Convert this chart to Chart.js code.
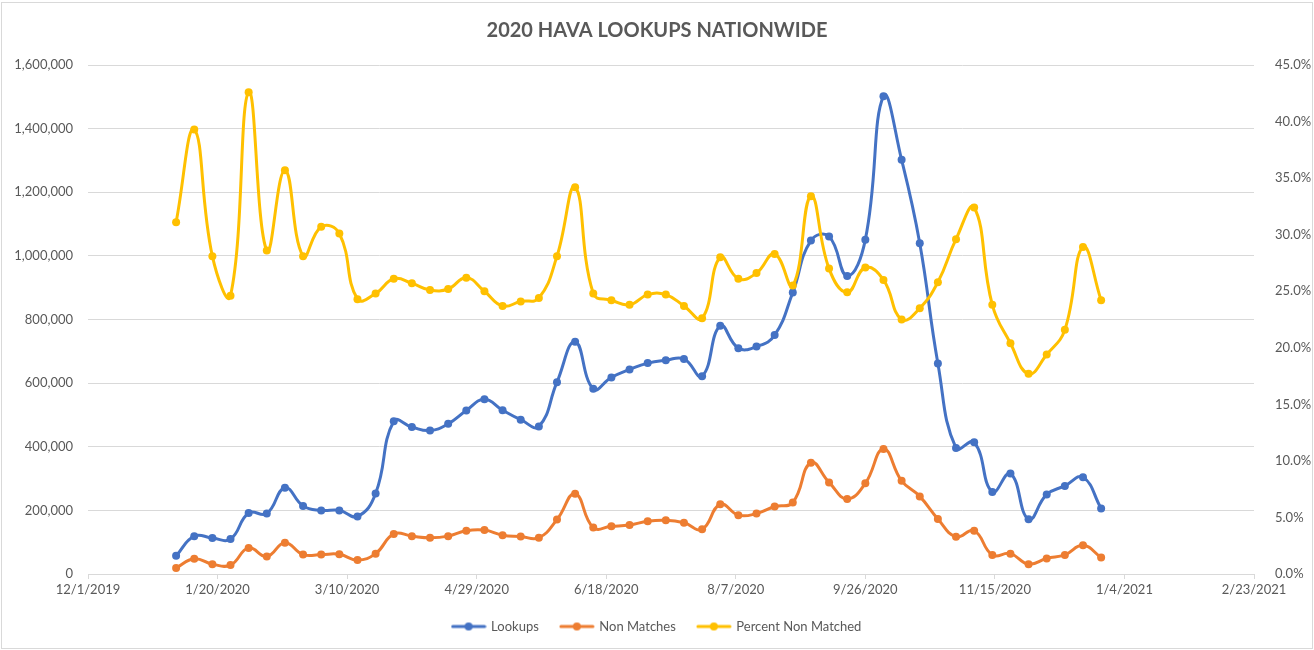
<!DOCTYPE html>
<html>
<head>
<meta charset="utf-8">
<script src="https://cdn.jsdelivr.net/npm/chart.js@4.4.1/dist/chart.umd.min.js"></script>
<style>
  html, body { margin: 0; padding: 0; background: #fff; }
  #wrap { width: 1314px; height: 650px; }
</style>
</head>
<body>
<div id="wrap"><canvas id="mainChart" width="1314" height="650"></canvas></div>
<script>
// weekly dates (Saturdays)
const weekDates = ['1/4/2020','1/11/2020','1/18/2020','1/25/2020','2/1/2020','2/8/2020','2/15/2020','2/22/2020','2/29/2020','3/7/2020',
    '3/14/2020','3/21/2020','3/28/2020','4/4/2020','4/11/2020','4/18/2020','4/25/2020','5/2/2020','5/9/2020','5/16/2020',
    '5/23/2020','5/30/2020','6/6/2020','6/13/2020','6/20/2020','6/27/2020','7/4/2020','7/11/2020','7/18/2020','7/25/2020',
    '8/1/2020','8/8/2020','8/15/2020','8/22/2020','8/29/2020','9/5/2020','9/12/2020','9/19/2020','9/26/2020','10/3/2020',
    '10/10/2020','10/17/2020','10/24/2020','10/31/2020','11/7/2020','11/14/2020','11/21/2020','11/28/2020','12/5/2020','12/12/2020',
    '12/19/2020','12/26/2020'];

const lookups = [57000,119000,113000,110000,192000,190000,271000,214000,200000,200000,
    181000,253000,480000,462000,451000,472000,514000,549000,515000,485000,
    464000,603000,730000,582000,618000,643000,663000,672000,676000,622000,
    780000,710000,715000,751000,885000,1048000,1061000,937000,1051000,1502000,
    1302000,1040000,662000,396000,414000,258000,316000,172000,250000,277000,
    304000,206000];

const nonMatches = [19000,48000,31000,28000,82000,55000,98000,61000,61000,62000,
    44000,64000,126000,119000,114000,119000,136000,138000,122000,118000,
    114000,171000,252000,146000,150000,154000,166000,169000,161000,141000,
    219000,185000,190000,212000,225000,350000,288000,236000,285000,393000,
    293000,244000,173000,117000,136000,60000,64000,31000,49000,60000,
    90000,52000];

const pctNonMatched = [31.1,39.3,28.1,24.6,42.6,28.6,35.7,28.1,30.7,30.1,
    24.3,24.8,26.1,25.7,25.1,25.2,26.2,25.0,23.7,24.1,
    24.4,28.1,34.2,24.8,24.2,23.8,24.7,24.7,23.7,22.6,
    28.0,26.1,26.6,28.3,25.5,33.4,27.0,24.9,27.1,26.0,
    22.5,23.5,25.8,29.6,32.4,23.8,20.4,17.7,19.4,21.6,
    28.9,24.2];

const xTickLabels = ['12/1/2019','1/20/2020','3/10/2020','4/29/2020','6/18/2020','8/7/2020','9/26/2020','11/15/2020','1/4/2021','2/23/2021'];

const FONT = "Lato, 'Open Sans', sans-serif";
const TXT = '#595959';
const GRID = '#D9D9D9';

// day offset from 12/1/2019
function dayNum(s) {
    const p = s.split('/').map(Number);
    return (Date.UTC(p[2], p[0] - 1, p[1]) - Date.UTC(2019, 11, 1)) / 86400000;
}
const xs = weekDates.map(dayNum);
const xMax = dayNum(xTickLabels[xTickLabels.length - 1]);

function pts(vals) {
    return vals.map((v, i) => ({ x: xs[i], y: v }));
}

// legend icon: line with a dot
function legendIcon(color) {
    const c = document.createElement('canvas');
    c.width = 36; c.height = 12;
    const g = c.getContext('2d');
    g.strokeStyle = color; g.lineWidth = 3; g.lineCap = 'round';
    g.beginPath(); g.moveTo(2, 6); g.lineTo(34, 6); g.stroke();
    g.fillStyle = color;
    g.beginPath(); g.arc(18, 6, 4, 0, Math.PI * 2); g.fill();
    return c;
}

const frame = {
    id: 'frame',
    beforeDraw(chart) {
        const ctx = chart.ctx;
        ctx.save();
        ctx.fillStyle = '#fff';
        ctx.fillRect(0, 0, chart.width, chart.height);
        ctx.strokeStyle = GRID;
        ctx.lineWidth = 1;
        ctx.strokeRect(1.5, 2.5, chart.width - 3, chart.height - 4);
        ctx.restore();
    }
};

function series(label, data, color, axis, order) {
    return {
        label: label,
        data: pts(data),
        yAxisID: axis,
        borderColor: color,
        backgroundColor: color,
        pointBackgroundColor: color,
        pointBorderColor: color,
        borderWidth: 3,
        pointRadius: 4,
        pointBorderWidth: 0,
        tension: 0.45,
        fill: false,
        order: order
    };
}

const ctx = document.getElementById('mainChart').getContext('2d');
new Chart(ctx, {
    type: 'line',
    data: {
        datasets: [
            series('Lookups', lookups, '#4472C4', 'y', 2),
            series('Non Matches', nonMatches, '#ED7D31', 'y', 1),
            series('Percent Non Matched', pctNonMatched, '#FFC000', 'y1', 0)
        ]
    },
    options: {
        responsive: false,
        animation: false,
        layout: { padding: { top: 0, left: 0, right: 0, bottom: 7 } },
        plugins: {
            tooltip: { enabled: false },
            title: {
                display: true,
                text: '2020 HAVA LOOKUPS NATIONWIDE',
                color: TXT,
                font: { family: FONT, size: 20, weight: 'bold' },
                padding: { top: 19, bottom: 22 }
            },
            legend: {
                position: 'bottom',
                labels: {
                    color: TXT,
                    font: { family: FONT, size: 13 },
                    usePointStyle: true,
                    pointStyleWidth: 32,
                    boxHeight: 12,
                    padding: 22,
                    generateLabels(chart) {
                        const items = Chart.defaults.plugins.legend.labels.generateLabels(chart);
                        items.sort((a, b) => a.datasetIndex - b.datasetIndex);
                        items.forEach(it => {
                            it.pointStyle = legendIcon(chart.data.datasets[it.datasetIndex].borderColor);
                        });
                        return items;
                    }
                }
            }
        },
        scales: {
            x: {
                type: 'linear',
                min: 0,
                max: xMax,
                afterFit(s) { s.height = 24; },
                afterBuildTicks(s) {
                    s.ticks = xTickLabels.map(t => ({ value: dayNum(t) }));
                },
                ticks: {
                    autoSkip: false,
                    maxRotation: 0,
                    padding: 3,
                    color: TXT,
                    font: { family: FONT, size: 13 },
                    callback(v, i) { return xTickLabels[i]; }
                },
                grid: { drawOnChartArea: false, drawTicks: true, tickLength: 5, color: GRID },
                border: { color: GRID }
            },
            y: {
                position: 'left',
                min: 0,
                max: 1600000,
                afterFit(s) { s.width = 88; },
                ticks: {
                    stepSize: 200000,
                    padding: 15,
                    color: TXT,
                    font: { family: FONT, size: 13 },
                    callback(v) { return v.toLocaleString('en-US'); }
                },
                grid: { color: GRID, drawTicks: false },
                border: { display: false }
            },
            y1: {
                position: 'right',
                min: 0,
                max: 45,
                afterFit(s) { s.width = 60; },
                ticks: {
                    stepSize: 5,
                    padding: 13,
                    color: TXT,
                    font: { family: FONT, size: 13 },
                    callback(v) { return v.toFixed(1) + '%'; }
                },
                grid: { display: false },
                border: { display: false }
            }
        }
    },
    plugins: [frame]
});
</script>
</body>
</html>
